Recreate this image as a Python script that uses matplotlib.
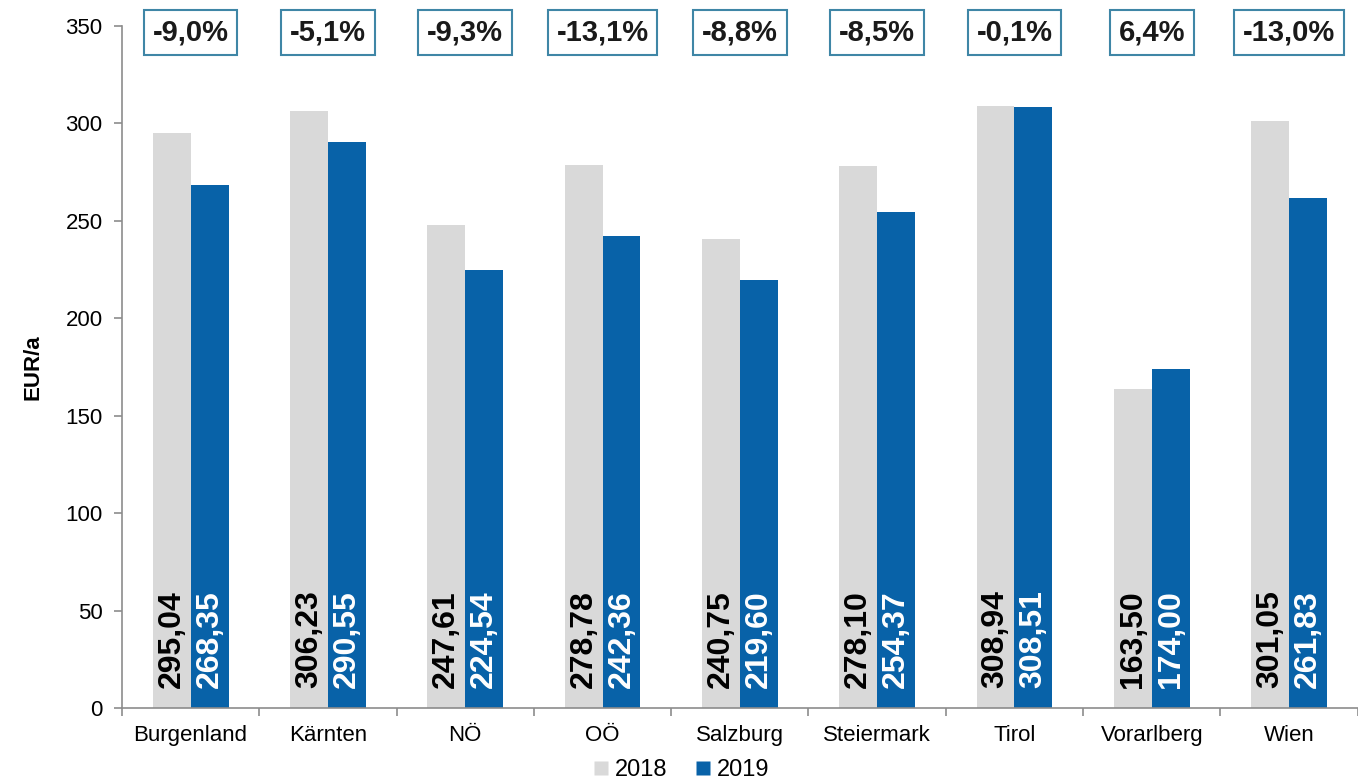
import matplotlib.pyplot as plt
from matplotlib import font_manager
from matplotlib.lines import Line2D


# -------------------------------------------------
# DATA
# -------------------------------------------------
regions = ["Burgenland", "Kärnten", "NÖ", "OÖ", "Salzburg",
           "Steiermark", "Tirol", "Vorarlberg", "Wien"]
values_2018 = [295.04, 306.23, 247.61, 278.78, 240.75, 278.10, 308.94, 163.50, 301.05]
values_2019 = [268.35, 290.55, 224.54, 242.36, 219.60, 254.37, 308.51, 174.00, 261.83]
changes = ["-9,0%", "-5,1%", "-9,3%", "-13,1%", "-8,8%",
           "-8,5%", "-0,1%", "6,4%", "-13,0%"]
y_ticks = [0, 50, 100, 150, 200, 250, 300, 350]

GREY = "#d9d9d9"
BLUE = "#0862a8"
BOX_EDGE = "#3f86a6"

# narrow font for the bar labels if available
names = {f.name for f in font_manager.fontManager.ttflist}
narrow = "Liberation Sans Narrow" if "Liberation Sans Narrow" in names else None

plt.rcParams["font.family"] = ["Liberation Sans", "DejaVu Sans"]

fig = plt.figure(figsize=(13.58, 7.84), dpi=100)
ax = fig.add_axes([0.0898, 0.097, 0.91, 0.870])

x = list(range(len(regions)))
w = 0.276
xg = [i - w / 2 for i in x]
xb = [i + w / 2 for i in x]

ax.bar(xg, values_2018, width=w, color=GREY, edgecolor="none", label="2018")
ax.bar(xb, values_2019, width=w, color=BLUE, edgecolor="none", label="2019")

# -------------------------------------------------
# VALUE LABELS (inside bars, rotated)
# -------------------------------------------------
lab_kw = dict(rotation=90, ha="center", va="bottom", fontweight="bold")
if narrow:
    lab_kw.update(family=narrow, fontsize=27)
else:
    lab_kw.update(fontsize=23)

for i in x:
    ax.text(xg[i], 10, f"{values_2018[i]:.2f}".replace(".", ","),
            color="black", **lab_kw)
    ax.text(xb[i], 10, f"{values_2019[i]:.2f}".replace(".", ","),
            color="white", **lab_kw)

# -------------------------------------------------
# CHANGE BOXES
# -------------------------------------------------
for i in x:
    ax.text(i, 346.5, changes[i], ha="center", va="center",
            fontsize=21, fontweight="bold", color="#1a1a1a", clip_on=False,
            bbox=dict(boxstyle="square,pad=0.3", facecolor="white",
                      edgecolor=BOX_EDGE, linewidth=1.5))

# -------------------------------------------------
# AXES FORMATTING
# -------------------------------------------------
ax.set_xlim(-0.5, len(regions) - 0.5)
ax.set_ylim(0, 350)
ax.set_yticks(y_ticks)
ax.set_xticks(x)
ax.set_xticklabels(regions)
ax.set_xticks([i - 0.5 for i in range(len(regions) + 1)], minor=True)
ax.tick_params(axis="x", which="major", length=0, labelsize=16, pad=12)
ax.tick_params(axis="x", which="minor", length=6, color="#8c8c8c", width=1.2)
ax.tick_params(axis="y", length=6, color="#8c8c8c", width=1.2, labelsize=16, pad=8)

for s in ["top", "right"]:
    ax.spines[s].set_visible(False)
for s in ["left", "bottom"]:
    ax.spines[s].set_color("#8c8c8c")
    ax.spines[s].set_linewidth(1.2)

ax.set_ylabel("EUR/a", fontsize=16, fontweight="bold", labelpad=16)

handles = [
    Line2D([0], [0], marker="s", color="none", markerfacecolor=GREY,
           markeredgecolor="none", markersize=10, label="2018"),
    Line2D([0], [0], marker="s", color="none", markerfacecolor=BLUE,
           markeredgecolor="none", markersize=10, label="2019"),
]
fig.legend(handles=handles, loc="center", bbox_to_anchor=(0.5, 0.018),
           ncol=2, frameon=False, fontsize=17, handletextpad=0.1,
           columnspacing=1.0, handlelength=1.0)

fig.savefig("out.png", dpi=100)
